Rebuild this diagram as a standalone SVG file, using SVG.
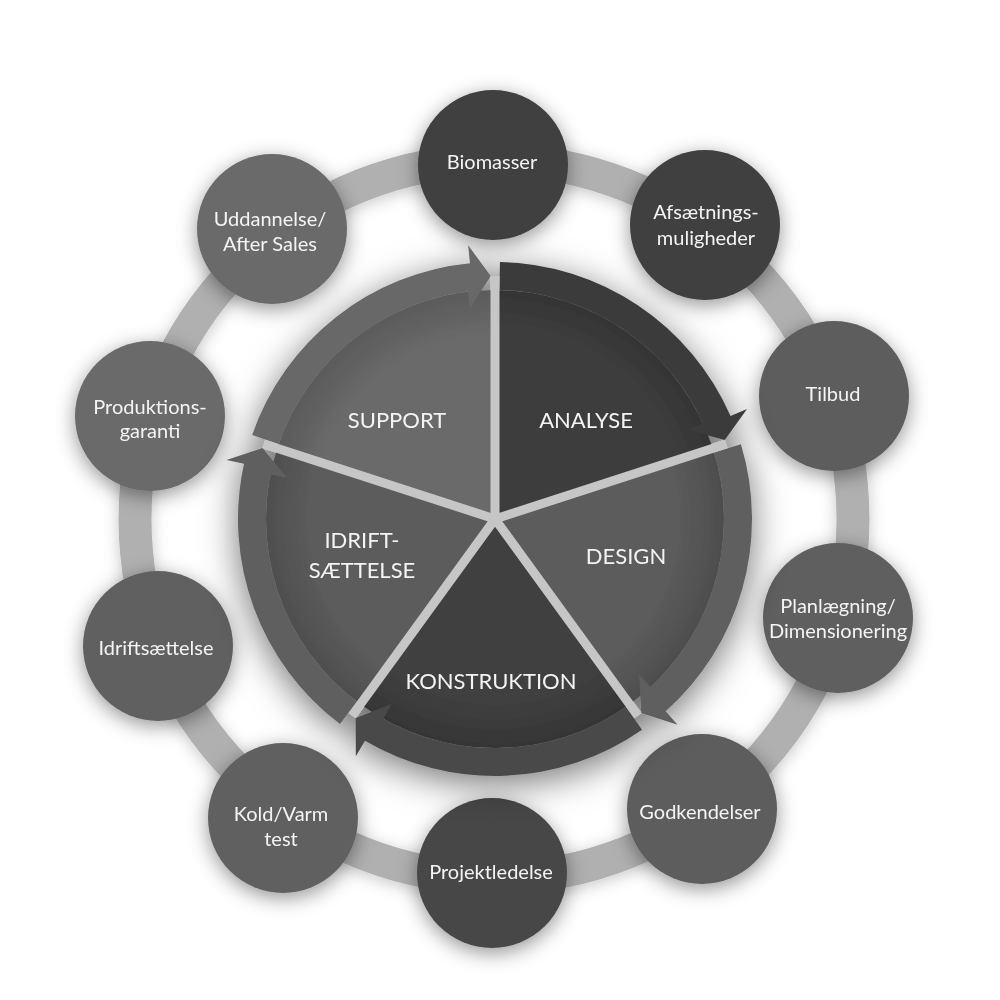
<svg xmlns="http://www.w3.org/2000/svg" width="1000" height="1000" viewBox="0 0 1000 1000">
<defs>
<style>
.lbl{font-family:Lato,"Open Sans","Liberation Sans",sans-serif;fill:#f4f4f4;text-anchor:middle;font-size:20px}
.big{font-size:22px}
.gap{stroke:#c6c6c6;stroke-width:9;stroke-linecap:butt;fill:none}
.ov{fill:url(#edge)}
</style>
<filter id="sh" x="-40%" y="-40%" width="180%" height="180%"><feDropShadow dx="0" dy="5" stdDeviation="10" flood-color="#000" flood-opacity="0.42"/></filter>
<filter id="shBig" x="-25%" y="-25%" width="150%" height="150%"><feDropShadow dx="0" dy="8" stdDeviation="18" flood-color="#000" flood-opacity="0.55"/></filter>
<filter id="shRing" x="-20%" y="-20%" width="140%" height="140%"><feDropShadow dx="0" dy="3" stdDeviation="8" flood-color="#000" flood-opacity="0.22"/></filter>
<radialGradient id="edge" gradientUnits="userSpaceOnUse" cx="495" cy="519" r="229"><stop offset="0.8" stop-color="#000" stop-opacity="0"/><stop offset="1" stop-color="#000" stop-opacity="0.15"/></radialGradient>
</defs>
<rect width="1000" height="1000" fill="#ffffff"/>
<g id="connectors">
<circle cx="494" cy="519" r="359" fill="none" stroke="#b0b0b0" stroke-width="33" filter="url(#shRing)"/>
</g>
<g id="nodes" filter="url(#sh)">
<g id="n-biomasser"><circle cx="493" cy="165" r="75" fill="#3f3f3f"/><text class="lbl" x="492" y="169">Biomasser</text></g>
<g id="n-afsaetning"><circle cx="705" cy="225" r="75" fill="#404040"/><text class="lbl" x="706" y="219">Afsætnings-</text><text class="lbl" x="706" y="245">muligheder</text></g>
<g id="n-tilbud"><circle cx="834" cy="396" r="75" fill="#5d5d5d"/><text class="lbl" x="833" y="401">Tilbud</text></g>
<g id="n-planlaegning"><circle cx="838" cy="618" r="75" fill="#5e5e5e"/><text class="lbl" x="838" y="613">Planlægning/</text><text class="lbl" x="838" y="638">Dimensionering</text></g>
<g id="n-godkendelser"><circle cx="702" cy="809" r="75" fill="#5d5d5d"/><text class="lbl" x="700" y="819">Godkendelser</text></g>
<g id="n-projektledelse"><circle cx="492" cy="873" r="75" fill="#474747"/><text class="lbl" x="491" y="879">Projektledelse</text></g>
<g id="n-koldvarm"><circle cx="283" cy="818" r="75" fill="#616161"/><text class="lbl" x="281" y="821">Kold/Varm</text><text class="lbl" x="281" y="846">test</text></g>
<g id="n-idriftsaettelse"><circle cx="158" cy="646" r="75" fill="#616161"/><text class="lbl" x="156" y="655">Idriftsættelse</text></g>
<g id="n-produktionsgaranti"><circle cx="150" cy="416" r="75" fill="#6a6a6a"/><text class="lbl" x="150" y="414">Produktions-</text><text class="lbl" x="150" y="438">garanti</text></g>
<g id="n-uddannelse"><circle cx="272" cy="229" r="75" fill="#6b6b6b"/><text class="lbl" x="270" y="226">Uddannelse/</text><text class="lbl" x="270" y="251">After Sales</text></g>
</g>
<g id="pie" filter="url(#shBig)">
<g id="phase-analyse">
<path d="M495,519 L495,290 A229,229 0 0 1 712.79,448.23 Z" fill="#3e3e3e"/>
<path class="ov" d="M495,519 L495,290 A229,229 0 0 1 712.79,448.23 Z"/>
<path d="M499.93,262.05 A257,257 0 0 1 730.5,416.11 L747,408.9 L724.76,439.89 L687.45,430.08 L702.88,422.95 A229,229 0 0 0 499.4,290.04 Z" fill="#3a3a3a"/>
<text class="lbl big" x="586" y="428">ANALYSE</text>
</g>
<g id="phase-design">
<path d="M495,519 L712.79,448.23 A229,229 0 0 1 629.6,704.27 Z" fill="#5b5b5b"/>
<path class="ov" d="M495,519 L712.79,448.23 A229,229 0 0 1 629.6,704.27 Z"/>
<path d="M740.9,444.29 A257,257 0 0 1 665.63,711.18 L677.58,724.65 L641.24,713.07 L639.04,674.55 L650.59,687.02 A229,229 0 0 0 714.11,452.43 Z" fill="#5e5e5e"/>
<text class="lbl big" x="626" y="564">DESIGN</text>
</g>
<g id="phase-konstruktion">
<path d="M495,519 L629.6,704.27 A229,229 0 0 1 360.4,704.27 Z" fill="#3f3f3f"/>
<path class="ov" d="M495,519 L629.6,704.27 A229,229 0 0 1 360.4,704.27 Z"/>
<path d="M642.04,729.78 A257,257 0 0 1 364.95,740.67 L355.84,756.19 L355.62,718.05 L391.57,704.06 L383.28,718.9 A229,229 0 0 0 626.02,706.81 Z" fill="#4a4a4a"/>
<text class="lbl big" x="491" y="689">KONSTRUKTION</text>
</g>
<g id="phase-idrift">
<path d="M495,519 L360.4,704.27 A229,229 0 0 1 277.21,448.23 Z" fill="#5c5c5c"/>
<path class="ov" d="M495,519 L360.4,704.27 A229,229 0 0 1 277.21,448.23 Z"/>
<path d="M339.97,723.98 A257,257 0 0 1 244,463.81 L226.42,459.95 L262.62,447.95 L287.04,477.82 L270.36,474.52 A229,229 0 0 0 356.86,701.65 Z" fill="#5f5f5f"/>
<text class="lbl big" x="362" y="548">IDRIFT-</text>
<text class="lbl big" x="362" y="578">SÆTTELSE</text>
</g>
<g id="phase-support">
<path d="M495,519 L277.21,448.23 A229,229 0 0 1 495,290 Z" fill="#6a6a6a"/>
<path class="ov" d="M495,519 L277.21,448.23 A229,229 0 0 1 495,290 Z"/>
<path d="M252.15,434.9 A257,257 0 0 1 469.92,263.23 L468.17,245.31 L490.76,276.04 L469.9,308.49 L467.88,291.61 A229,229 0 0 0 278.61,444.07 Z" fill="#676767"/>
<text class="lbl big" x="397" y="428">SUPPORT</text>
</g>
<g id="gaps">
<path class="gap" d="M495,519 L495,276 M495,519 L726.11,443.91 M495,519 L637.83,715.59 M495,519 L352.17,715.59 M495,519 L263.89,443.91"/>
</g>
</g>
</svg>
